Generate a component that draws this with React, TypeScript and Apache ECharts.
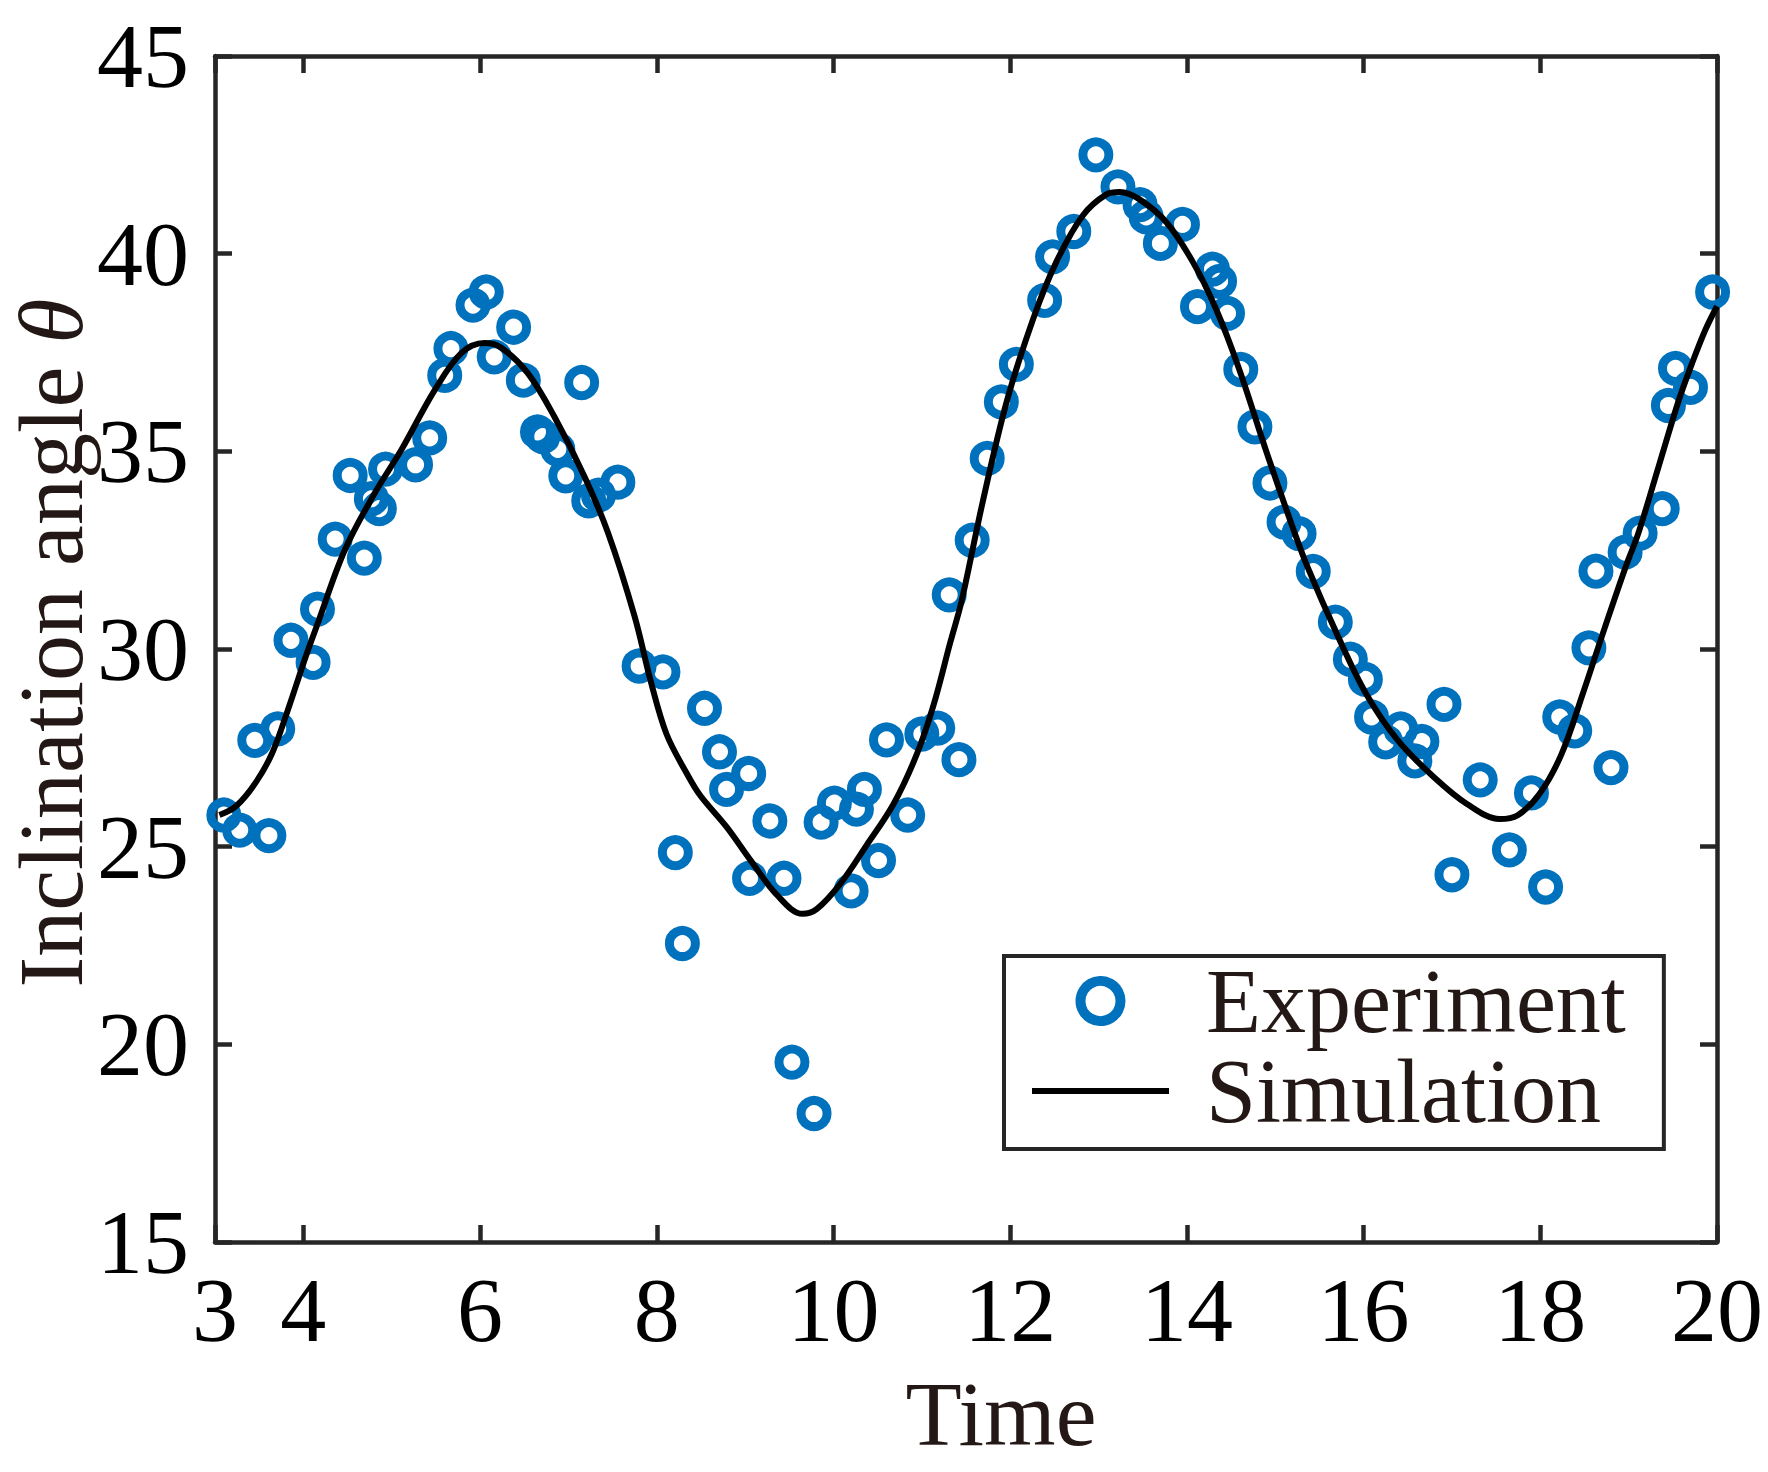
import React, { useEffect, useRef } from "react";
import * as echarts from "echarts";

const FONT = "'Times New Roman', 'Liberation Serif', serif";

const xTicks = [3, 4, 6, 8, 10, 12, 14, 16, 18, 20];
const yTicks = [15, 20, 25, 30, 35, 40, 45];

const expTime = [
  3.10, 3.28, 3.45, 3.61, 3.71, 3.86, 4.11, 4.16, 4.36, 4.69,
  4.53, 4.77, 4.86, 4.93, 5.27, 5.43, 5.60, 5.67, 5.92, 6.07,
  6.16, 6.38, 6.49, 6.65, 6.71, 6.88, 6.97, 7.15, 7.23, 7.34,
  7.56, 7.80, 8.07, 8.54, 8.71, 8.79, 9.04, 8.21, 9.28, 9.05,
  9.44, 8.29, 9.53, 9.78, 9.86, 10.01, 10.26, 10.35, 10.20, 10.51,
  10.84, 10.60, 11.00, 11.18, 11.42, 11.31, 11.57, 11.74, 11.90, 12.07,
  12.39, 12.48, 12.72, 12.97, 13.22, 13.47, 13.54, 13.70, 13.95, 14.12,
  14.29, 14.37, 14.46, 14.61, 14.77, 14.94, 15.10, 15.27, 15.43, 15.68,
  15.85, 16.02, 16.09, 16.25, 16.42, 16.58, 16.66, 16.91, 17.00, 17.32,
  17.65, 17.90, 18.06, 18.22, 18.39, 18.55, 18.63, 18.80, 18.96, 19.13,
  19.38, 19.45, 19.53, 19.70, 19.95,
];
const expAngle = [
  25.80, 25.42, 27.69, 25.28, 27.98, 30.22, 29.66, 31.01, 32.78, 32.30,
  34.39, 33.80, 33.55, 34.55, 34.66, 35.34, 36.92, 37.60, 38.70, 39.03,
  37.39, 38.14, 36.80, 35.49, 35.37, 35.05, 34.38, 36.74, 33.75, 33.89,
  34.22, 29.57, 29.42, 28.50, 27.40, 26.45, 26.85, 24.85, 25.65, 24.20,
  24.20, 22.55, 19.55, 18.25, 25.62, 26.10, 25.95, 26.45, 23.88, 24.65,
  25.80, 27.70, 27.85, 28.00, 27.20, 31.37, 32.75, 34.82, 36.25, 37.20,
  38.82, 39.92, 40.56, 42.50, 41.69, 41.24, 40.93, 40.26, 40.74, 38.66,
  39.61, 39.30, 38.49, 37.07, 35.62, 34.20, 33.21, 32.92, 31.96, 30.68,
  29.74, 29.23, 28.28, 27.65, 27.98, 27.17, 27.66, 28.60, 24.29, 26.69,
  24.92, 26.36, 23.98, 28.28, 27.93, 30.03, 31.97, 27.00, 32.45, 32.93,
  33.55, 36.16, 37.10, 36.62, 39.03,
];

const simTime = [
  3.05, 3.24, 3.46, 3.65, 3.84, 4.03, 4.15, 4.47, 4.81, 5.11,
  5.49, 5.79, 6.05, 6.24, 6.54, 6.84, 7.18, 7.45, 7.75, 7.93,
  8.11, 8.34, 8.49, 8.79, 9.06, 9.36, 9.65, 9.81, 10.07, 10.37,
  10.68, 10.94, 11.13, 11.32, 11.45, 11.69, 11.96, 12.26, 12.52, 12.82,
  13.09, 13.24, 13.46, 13.77, 14.07, 14.33, 14.59, 14.90, 15.20, 15.37,
  15.70, 16.03, 16.39, 16.80, 17.17, 17.54, 17.74, 17.99, 18.24, 18.48,
  18.73, 18.97, 19.11, 19.34, 19.57, 19.72, 19.87, 20.00,
];
const simAngle = [
  25.80, 26.03, 26.62, 27.38, 28.56, 29.83, 30.57, 32.51, 33.95, 35.04,
  36.56, 37.49, 37.74, 37.62, 36.98, 35.88, 34.37, 32.93, 30.82, 29.20,
  27.85, 26.85, 26.30, 25.50, 24.66, 23.78, 23.30, 23.42, 24.04, 25.02,
  26.08, 27.32, 28.56, 30.15, 31.21, 33.73, 36.25, 38.35, 39.78, 40.96,
  41.50, 41.56, 41.38, 40.79, 39.78, 38.60, 37.09, 34.99, 33.06, 32.05,
  30.37, 28.86, 27.68, 26.75, 26.08, 25.70, 25.79, 26.33, 27.34, 28.86,
  30.54, 32.10, 32.93, 34.62, 36.31, 37.24, 38.08, 38.67,
];

const AXIS_COLOR = "#262626";
const TEXT_COLOR = "#231815";
const BLUE = "#0072BD";

export default function App() {
  const ref = useRef<HTMLDivElement>(null);
  useEffect(() => {
    if (!ref.current) return;
    const chart = echarts.init(ref.current, undefined, { renderer: "svg" });
    const axisLine = { show: true, onZero: false, lineStyle: { color: AXIS_COLOR, width: 4.5 } };
    const tickBase = { show: true, inside: true, length: 17, lineStyle: { color: AXIS_COLOR, width: 4.5 } };
    const option: any = {
      animation: false,
      backgroundColor: "#ffffff",
      grid: { left: 215, right: 51, top: 56, bottom: 230, containLabel: false },
      xAxis: [
        {
          type: "value", min: 3, max: 20, position: "bottom",
          axisLine, axisTick: { ...tickBase, customValues: xTicks },
          axisLabel: { customValues: xTicks, fontSize: 92, fontFamily: FONT, color: "#000", margin: 22 },
          splitLine: { show: false },
        },
        {
          type: "value", min: 3, max: 20, position: "top",
          axisLine, axisTick: { ...tickBase, customValues: xTicks },
          axisLabel: { show: false }, splitLine: { show: false },
        },
      ],
      yAxis: [
        {
          type: "value", min: 15, max: 45, interval: 5, position: "left",
          axisLine, axisTick: { ...tickBase, customValues: yTicks },
          axisLabel: { customValues: yTicks, fontSize: 92, fontFamily: FONT, color: "#000", margin: 26 },
          splitLine: { show: false },
        },
        {
          type: "value", min: 15, max: 45, interval: 5, position: "right",
          axisLine, axisTick: { ...tickBase, customValues: yTicks },
          axisLabel: { show: false }, splitLine: { show: false },
        },
      ],
      legend: {
        orient: "vertical",
        left: 1004,
        top: 956,
        itemWidth: 137,
        itemHeight: 40,
        itemGap: 0,
        padding: [0, 38, 13, 28],
        backgroundColor: "#ffffff",
        borderColor: AXIS_COLOR,
        borderWidth: 4,
        borderRadius: 0,
        textStyle: { fontSize: 90, fontFamily: FONT, color: TEXT_COLOR, lineHeight: 84, padding: [0, 0, 0, 32] },
        data: [
          {
            name: "Experiment",
            icon: "circle",
            itemStyle: { color: "rgba(255,255,255,0)", borderColor: BLUE, borderWidth: 10, opacity: 1 },
          },
          {
            name: "Simulation",
            icon: "path://M0 0H137V6H0Z",
            itemStyle: { color: "#000000", borderWidth: 0, opacity: 1 },
          },
        ],
      },
      graphic: [
        {
          type: "text", x: 51, y: 643, rotation: Math.PI / 2,
          style: {
            text: "Inclination angle {it|θ}",
            fontSize: 92, lineHeight: 92, fontFamily: FONT, fill: TEXT_COLOR,
            textAlign: "center", textVerticalAlign: "middle",
            rich: { it: { fontSize: 92, lineHeight: 92, fontFamily: FONT, fontStyle: "italic", fill: TEXT_COLOR } },
          },
        },
        {
          type: "text", x: 1001, y: 1414,
          style: {
            text: "Time", fontSize: 92, fontFamily: FONT, fill: TEXT_COLOR,
            textAlign: "center", textVerticalAlign: "middle",
          },
        },
      ],
      series: [
        {
          type: "scatter", name: "Experiment",
          data: expTime.map((t, i) => [t, expAngle[i]]),
          symbol: "circle", symbolSize: 26,
          itemStyle: { color: "rgba(255,255,255,0)", borderColor: BLUE, borderWidth: 9, opacity: 1 },
          z: 2,
        },
        {
          type: "line", name: "Simulation",
          data: simTime.map((t, i) => [t, simAngle[i]]),
          symbol: "none", smooth: 0.35,
          lineStyle: { color: "#000000", width: 6 },
          itemStyle: { color: "#000000" },
          z: 3,
        },
      ],
    };
    chart.setOption(option);
    return () => chart.dispose();
  }, []);
  return (
    <div
      ref={ref}
      style={{ position: "absolute", left: 0, top: 0, width: 1768, height: 1472, background: "#fff" }}
    />
  );
}
